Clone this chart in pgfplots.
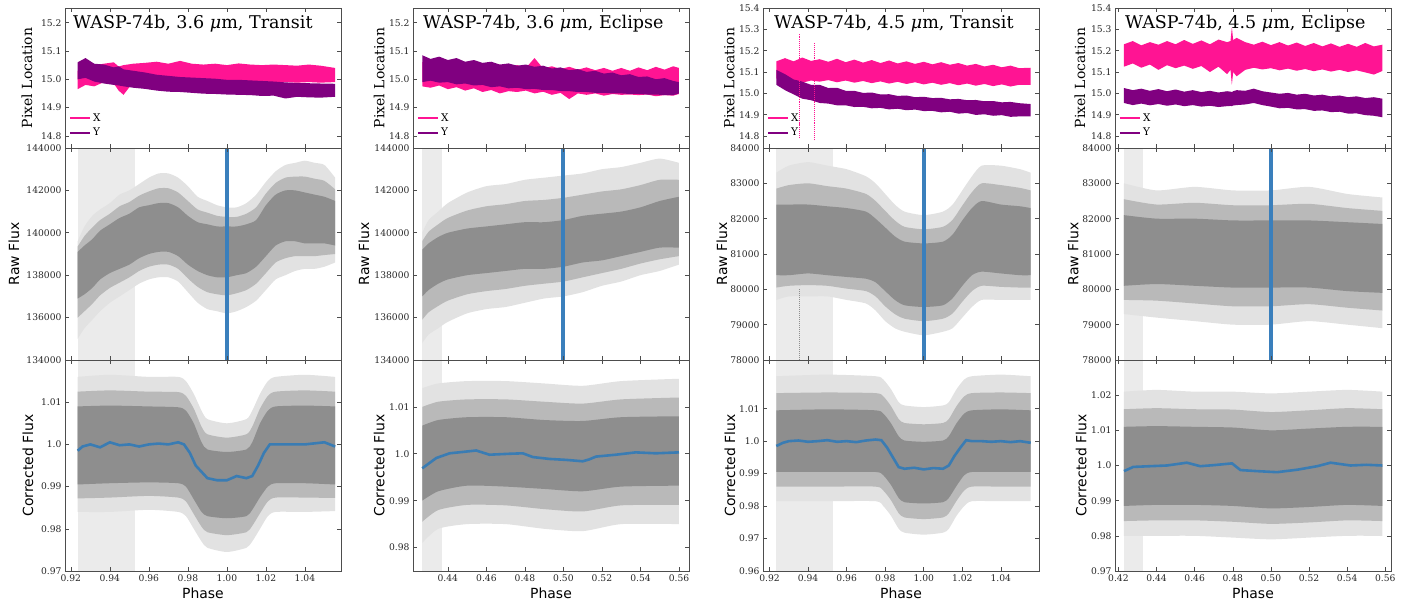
\documentclass[border=0pt]{standalone}
\usepackage{pgfplots}
\pgfplotsset{compat=1.18}
\usepackage{pgfplotstable}
\usepgfplotslibrary{fillbetween}
\usepackage{fontspec}
\setmainfont{DejaVu Serif}
\newfontfamily\sans{DejaVu Sans}
\definecolor{xpink}{HTML}{FF1493}
\definecolor{ypurple}{HTML}{800080}
\definecolor{mblue}{HTML}{3A7CB3}
\definecolor{vblue}{HTML}{3A7FBC}
\definecolor{axc}{HTML}{4D4D4D}
\definecolor{score}{HTML}{8E8E8E}
\definecolor{smid}{HTML}{B9B9B9}
\definecolor{sout}{HTML}{E2E2E2}
\definecolor{spanc}{HTML}{EBEBEB}

% ---------- Row 1: pixel location envelopes (x, X upper/lower, Y upper/lower)
\pgfplotstableread{
x xu xl yu yl
0.9235 15.030 14.965 15.060 15.000
0.9275 15.040 14.980 15.075 15.005
0.9320 15.050 14.975 15.055 14.992
0.9370 15.055 14.990 15.052 14.985
0.9420 15.060 14.985 15.042 14.980
0.9445 15.045 14.960 15.046 14.978
0.9470 15.050 14.945 15.035 14.975
0.9520 15.055 14.990 15.030 14.970
0.9580 15.058 14.990 15.024 14.966
0.9640 15.062 14.990 15.016 14.960
0.9700 15.055 14.988 15.012 14.956
0.9760 15.065 14.990 15.008 14.955
0.9820 15.055 14.990 15.006 14.952
0.9880 15.052 14.988 15.004 14.949
0.9940 15.055 14.990 15.002 14.948
1.0000 15.050 14.988 14.998 14.946
1.0060 15.056 14.990 14.998 14.945
1.0120 15.052 14.988 14.996 14.944
1.0180 15.050 14.990 14.994 14.941
1.0240 15.052 14.988 14.992 14.942
1.0300 15.050 14.990 14.989 14.932
1.0360 15.048 14.988 14.987 14.938
1.0420 15.052 14.990 14.986 14.936
1.0480 15.048 14.988 14.985 14.935
1.0555 15.040 14.990 14.984 14.938
}\pA
\pgfplotstableread{
x xu xl yu yl
0.4267 15.060 14.975 15.085 14.990
0.4310 15.068 14.970 15.072 14.995
0.4355 15.055 14.978 15.080 14.988
0.4400 15.062 14.965 15.068 14.990
0.4445 15.050 14.972 15.075 14.982
0.4490 15.058 14.960 15.062 14.985
0.4535 15.048 14.968 15.068 14.978
0.4580 15.055 14.955 15.058 14.980
0.4625 15.045 14.962 15.062 14.972
0.4670 15.052 14.950 15.052 14.975
0.4715 15.042 14.958 15.056 14.968
0.4760 15.050 14.955 15.048 14.970
0.4805 15.040 14.960 15.052 14.965
0.4850 15.075 14.950 15.044 14.966
0.4895 15.038 14.956 15.048 14.962
0.4940 15.046 14.945 15.038 14.962
0.4985 15.036 14.952 15.042 14.958
0.5030 15.044 14.930 15.032 14.958
0.5075 15.034 14.950 15.036 14.955
0.5120 15.042 14.945 15.026 14.955
0.5165 15.032 14.950 15.030 14.952
0.5210 15.040 14.942 15.020 14.952
0.5255 15.030 14.948 15.024 14.950
0.5300 15.040 14.945 15.014 14.950
0.5345 15.030 14.946 15.018 14.948
0.5390 15.042 14.944 15.008 14.948
0.5435 15.032 14.946 15.010 14.946
0.5480 15.044 14.940 15.000 14.946
0.5525 15.034 14.944 15.004 14.944
0.5570 15.046 14.942 14.994 14.944
0.5600 15.040 14.948 14.990 14.950
}\pB
\pgfplotstableread{
x xu xl yu yl
0.9235 15.150 15.070 15.110 15.040
0.9280 15.165 15.055 15.090 15.015
0.9325 15.150 15.062 15.065 14.995
0.9370 15.168 15.050 15.055 14.975
0.9415 15.152 15.060 15.040 14.968
0.9460 15.160 15.055 15.040 14.955
0.9505 15.148 15.062 15.025 14.952
0.9550 15.162 15.052 15.026 14.944
0.9595 15.146 15.060 15.012 14.944
0.9640 15.158 15.050 15.012 14.936
0.9685 15.144 15.058 15.002 14.937
0.9730 15.156 15.048 15.004 14.930
0.9775 15.142 15.056 14.995 14.932
0.9820 15.154 15.046 14.996 14.925
0.9865 15.140 15.054 14.988 14.928
0.9910 15.150 15.044 14.990 14.921
0.9955 15.138 15.052 14.982 14.924
1.0000 15.148 15.042 14.984 14.917
1.0045 15.136 15.050 14.978 14.918
1.0090 15.146 15.040 14.979 14.911
1.0135 15.134 15.048 14.972 14.914
1.0180 15.142 15.038 14.974 14.905
1.0225 15.130 15.046 14.968 14.908
1.0270 15.138 15.036 14.969 14.899
1.0315 15.126 15.044 14.963 14.902
1.0360 15.134 15.034 14.964 14.895
1.0405 15.122 15.042 14.958 14.898
1.0450 15.130 15.032 14.960 14.890
1.0495 15.118 15.040 14.954 14.892
1.0555 15.120 15.040 14.950 14.892
}\pC
\pgfplotstableread{
x xu xl yu yl
0.4229 15.230 15.125 15.025 14.955
0.4275 15.245 15.140 15.015 14.945
0.4320 15.225 15.120 15.022 14.952
0.4365 15.240 15.135 15.012 14.944
0.4410 15.228 15.110 15.020 14.950
0.4455 15.245 15.132 15.010 14.942
0.4500 15.230 15.118 15.018 14.948
0.4545 15.250 15.130 15.008 14.940
0.4590 15.232 15.115 15.015 14.945
0.4635 15.248 15.128 15.006 14.938
0.4680 15.230 15.100 15.012 14.942
0.4725 15.252 15.125 15.004 14.936
0.4770 15.240 15.090 15.010 14.940
0.4788 15.245 15.110 15.008 14.941
0.4795 15.310 15.040 15.006 14.940
0.4802 15.250 15.100 15.010 14.943
0.4820 15.260 15.080 15.015 14.945
0.4865 15.240 15.110 15.012 14.948
0.4910 15.228 15.120 15.022 14.955
0.4955 15.242 15.112 15.010 14.945
0.5000 15.226 15.118 15.004 14.938
0.5045 15.240 15.108 14.998 14.930
0.5090 15.224 15.116 15.002 14.932
0.5135 15.238 15.106 14.994 14.925
0.5180 15.222 15.114 14.998 14.926
0.5225 15.236 15.104 14.990 14.918
0.5270 15.220 15.112 14.994 14.920
0.5315 15.234 15.102 14.986 14.912
0.5360 15.218 15.110 14.990 14.914
0.5405 15.232 15.100 14.982 14.905
0.5450 15.218 15.108 14.986 14.906
0.5495 15.236 15.098 14.978 14.898
0.5540 15.220 15.088 14.982 14.895
0.5585 15.228 15.105 14.975 14.888
}\pD

% ---------- Row 2: raw flux envelopes (outer sparse, middle, dense core)
\pgfplotstableread{
x ou ol mu ml cu cl
0.9235 139600 135000 139350 136000 139100 136900
0.9270 140300 135500 139850 136300 139400 137100
0.9310 140800 135900 140250 136650 139700 137400
0.9350 141100 136300 140600 137050 140100 137800
0.9400 141400 136700 140900 137400 140400 138100
0.9450 141800 137000 141250 137650 140700 138300
0.9500 142000 137300 141450 137900 140900 138500
0.9550 142300 137600 141750 138200 141200 138800
0.9600 142600 137800 141950 138400 141300 139000
0.9650 142800 137900 142100 138500 141400 139100
0.9700 142800 137900 142100 138500 141400 139100
0.9750 142600 137700 141900 138300 141200 138900
0.9800 142200 137200 141500 137850 140800 138500
0.9850 141700 136700 141100 137450 140500 138200
0.9900 141500 136400 140950 137200 140400 138000
0.9950 141300 136300 140800 137100 140300 137900
1.0000 141200 136200 140750 137050 140300 137900
1.0050 141200 136300 140750 137150 140300 138000
1.0100 141400 136500 140900 137300 140400 138100
1.0150 141800 136800 141200 137600 140600 138400
1.0200 142400 137300 141850 138100 141300 138900
1.0250 142900 137800 142350 138600 141800 139400
1.0300 143200 138000 142600 138800 142000 139600
1.0350 143300 138200 142650 138900 142000 139600
1.0400 143400 138300 142650 138900 141900 139500
1.0450 143300 138300 142550 138900 141800 139500
1.0500 143200 138400 142450 138950 141700 139500
1.0555 142600 138600 142050 139000 141500 139400
}\rA
\pgfplotstableread{
x ou ol mu ml cu cl
0.4267 140000 134800 139600 135900 139200 137000
0.4300 140600 135200 140050 136250 139500 137300
0.4350 141000 135500 140400 136550 139800 137600
0.4400 141400 135800 140700 136800 140000 137800
0.4500 141900 136200 141050 137100 140200 138000
0.4600 142200 136400 141250 137250 140300 138100
0.4700 142300 136500 141350 137350 140400 138200
0.4800 142500 136700 141500 137500 140500 138300
0.4900 142600 136900 141550 137600 140500 138300
0.5000 142700 137000 141650 137700 140600 138400
0.5100 142800 137200 141800 137900 140800 138600
0.5200 143000 137500 141950 138100 140900 138700
0.5300 143100 137700 142050 138300 141000 138900
0.5400 143300 138000 142250 138550 141200 139100
0.5500 143500 138200 142500 138750 141500 139300
0.5600 143300 138500 142500 138900 141700 139300
}\rB
\pgfplotstableread{
x ou ol mu ml cu cl
0.9235 83300 79700 82850 80050 82400 80400
0.9300 83500 79800 82950 80100 82400 80400
0.9400 83600 79800 83000 80120 82400 80450
0.9500 83500 79800 82920 80100 82350 80400
0.9600 83400 79700 82850 80020 82300 80350
0.9700 83200 79600 82700 79950 82200 80300
0.9750 83000 79400 82500 79800 82000 80200
0.9800 82700 79100 82220 79520 81750 79950
0.9850 82400 78900 81950 79300 81500 79700
0.9900 82200 78800 81770 79170 81350 79550
1.0000 82100 78700 81700 79100 81300 79500
1.0100 82200 78800 81770 79170 81350 79550
1.0150 82400 78900 81970 79320 81550 79750
1.0200 82800 79200 82370 79650 81950 80100
1.0250 83200 79500 82750 79950 82300 80400
1.0300 83500 79700 83000 80100 82500 80500
1.0400 83500 79700 82950 80070 82400 80450
1.0500 83400 79700 82870 80050 82350 80400
1.0555 83300 79700 82800 80050 82300 80400
}\rC
\pgfplotstableread{
x ou ol mu ml cu cl
0.4229 83000 79300 82550 79700 82100 80100
0.4400 82800 79200 82400 79680 82000 80150
0.4600 82900 79100 82450 79600 82000 80100
0.4800 82800 79000 82380 79520 81950 80050
0.5000 82800 79000 82380 79520 81950 80050
0.5200 82900 79100 82420 79580 81950 80050
0.5400 82700 79000 82300 79480 81900 79950
0.5585 82600 78900 82220 79400 81850 79900
}\rD

% ---------- Row 3: corrected flux envelopes
\pgfplotstableread{
x ou ol mu ml cu cl
0.9235 1.0160 0.9840 1.0125 0.9872 1.0090 0.9905
0.9400 1.0165 0.9840 1.0128 0.9874 1.0092 0.9908
0.9600 1.0160 0.9845 1.0125 0.9878 1.0090 0.9910
0.9750 1.0160 0.9840 1.0124 0.9874 1.0088 0.9908
0.9790 1.0150 0.9830 1.0115 0.9865 1.0080 0.9900
0.9830 1.0120 0.9800 1.0085 0.9835 1.0050 0.9870
0.9870 1.0080 0.9770 1.0042 0.9805 1.0005 0.9840
0.9900 1.0060 0.9755 1.0024 0.9792 0.9988 0.9830
1.0000 1.0050 0.9745 1.0016 0.9785 0.9982 0.9825
1.0100 1.0060 0.9755 1.0024 0.9792 0.9988 0.9830
1.0130 1.0080 0.9770 1.0042 0.9807 1.0005 0.9845
1.0170 1.0120 0.9800 1.0085 0.9837 1.0050 0.9875
1.0210 1.0150 0.9830 1.0115 0.9865 1.0080 0.9900
1.0250 1.0160 0.9840 1.0125 0.9874 1.0090 0.9908
1.0400 1.0165 0.9840 1.0128 0.9874 1.0092 0.9908
1.0555 1.0160 0.9842 1.0125 0.9873 1.0090 0.9905
}\cA
\pgfplotstableread{
x ou ol mu ml cu cl
0.4267 1.0140 0.9810 1.0100 0.9855 1.0060 0.9900
0.4350 1.0150 0.9840 1.0111 0.9880 1.0072 0.9920
0.4500 1.0155 0.9850 1.0116 0.9891 1.0078 0.9932
0.4700 1.0155 0.9850 1.0116 0.9890 1.0078 0.9930
0.4900 1.0150 0.9840 1.0111 0.9882 1.0072 0.9925
0.5100 1.0145 0.9835 1.0107 0.9877 1.0070 0.9920
0.5300 1.0155 0.9850 1.0116 0.9890 1.0078 0.9930
0.5600 1.0160 0.9850 1.0120 0.9891 1.0080 0.9932
}\cB
\pgfplotstableread{
x ou ol mu ml cu cl
0.9235 1.0200 0.9815 1.0148 0.9860 1.0095 0.9905
0.9500 1.0205 0.9815 1.0150 0.9860 1.0098 0.9905
0.9750 1.0200 0.9815 1.0148 0.9860 1.0095 0.9905
0.9790 1.0190 0.9800 1.0138 0.9848 1.0085 0.9895
0.9830 1.0160 0.9770 1.0108 0.9818 1.0055 0.9865
0.9870 1.0120 0.9730 1.0068 0.9778 1.0015 0.9825
0.9900 1.0110 0.9718 1.0056 0.9765 1.0002 0.9812
1.0000 1.0105 0.9712 1.0052 0.9760 0.9998 0.9808
1.0100 1.0110 0.9718 1.0056 0.9765 1.0002 0.9812
1.0130 1.0120 0.9730 1.0068 0.9778 1.0015 0.9825
1.0170 1.0160 0.9770 1.0108 0.9816 1.0055 0.9862
1.0210 1.0190 0.9800 1.0138 0.9848 1.0085 0.9895
1.0250 1.0200 0.9815 1.0148 0.9860 1.0095 0.9905
1.0400 1.0205 0.9815 1.0150 0.9860 1.0098 0.9905
1.0555 1.0200 0.9815 1.0148 0.9860 1.0095 0.9905
}\cC
\pgfplotstableread{
x ou ol mu ml cu cl
0.4229 1.0210 0.9800 1.0160 0.9842 1.0110 0.9885
0.4400 1.0215 0.9800 1.0163 0.9844 1.0112 0.9888
0.4600 1.0210 0.9800 1.0160 0.9844 1.0110 0.9888
0.4800 1.0210 0.9795 1.0159 0.9840 1.0108 0.9885
0.5000 1.0205 0.9790 1.0152 0.9834 1.0100 0.9878
0.5200 1.0210 0.9795 1.0157 0.9838 1.0105 0.9882
0.5400 1.0215 0.9800 1.0163 0.9844 1.0110 0.9888
0.5585 1.0210 0.9800 1.0160 0.9842 1.0110 0.9885
}\cD

% ---------- Row 3: binned model (blue line)
\pgfplotstableread{
x y
0.9235 0.9985
0.9260 0.9995
0.9300 1.0000
0.9350 0.9993
0.9400 1.0005
0.9450 0.9998
0.9500 1.0000
0.9550 0.9995
0.9600 1.0000
0.9650 1.0002
0.9700 1.0000
0.9750 1.0005
0.9780 1.0000
0.9810 0.9980
0.9840 0.9950
0.9870 0.9935
0.9900 0.9920
0.9950 0.9915
1.0000 0.9915
1.0050 0.9925
1.0100 0.9920
1.0130 0.9925
1.0160 0.9950
1.0190 0.9980
1.0220 1.0000
1.0300 1.0000
1.0400 1.0000
1.0500 1.0005
1.0555 0.9995
}\mA
\pgfplotstableread{
x y
0.4267 0.9969
0.4340 0.9991
0.4409 1.0001
0.4480 1.0004
0.4547 1.0007
0.4616 0.9998
0.4720 1.0000
0.4789 1.0001
0.4841 0.9993
0.4927 0.9989
0.5013 0.9987
0.5100 0.9984
0.5134 0.9988
0.5169 0.9994
0.5272 0.9998
0.5376 1.0003
0.5479 1.0001
0.5600 1.0003
}\mB
\pgfplotstableread{
x y
0.9235 0.9985
0.9270 0.9995
0.9300 1.0000
0.9350 1.0002
0.9400 0.9998
0.9450 1.0000
0.9500 1.0003
0.9550 0.9998
0.9600 1.0000
0.9650 0.9997
0.9700 1.0002
0.9750 1.0005
0.9780 1.0003
0.9810 0.9980
0.9840 0.9950
0.9870 0.9920
0.9900 0.9915
0.9950 0.9918
1.0000 0.9913
1.0050 0.9917
1.0100 0.9915
1.0130 0.9925
1.0160 0.9955
1.0190 0.9980
1.0220 1.0003
1.0250 1.0000
1.0300 1.0000
1.0350 0.9998
1.0400 1.0000
1.0450 0.9997
1.0500 1.0000
1.0555 0.9995
}\mC
\pgfplotstableread{
x y
0.4229 0.9984
0.4278 0.9996
0.4366 0.9998
0.4454 1.0000
0.4559 1.0008
0.4629 0.9998
0.4700 1.0001
0.4796 1.0006
0.4840 0.9987
0.4927 0.9984
0.5032 0.9981
0.5138 0.9988
0.5243 0.9998
0.5313 1.0008
0.5418 1.0000
0.5500 1.0002
0.5585 1.0000
}\mD

\newcommand{\scat}[1]{%
 \addplot[draw=none, smooth, tension=0.4, name path=OU, forget plot] table[x=x,y=ou]{#1};
 \addplot[draw=none, smooth, tension=0.4, name path=OL, forget plot] table[x=x,y=ol]{#1};
 \addplot[fill=sout, forget plot] fill between[of=OU and OL];
 \addplot[draw=none, smooth, tension=0.4, name path=MU, forget plot] table[x=x,y=mu]{#1};
 \addplot[draw=none, smooth, tension=0.4, name path=ML, forget plot] table[x=x,y=ml]{#1};
 \addplot[fill=smid, forget plot] fill between[of=MU and ML];
 \addplot[draw=none, smooth, tension=0.4, name path=CU, forget plot] table[x=x,y=cu]{#1};
 \addplot[draw=none, smooth, tension=0.4, name path=CL, forget plot] table[x=x,y=cl]{#1};
 \addplot[fill=score, forget plot] fill between[of=CU and CL];
}
\newcommand{\pix}[1]{%
 \addplot[draw=none, name path=XU, forget plot] table[x=x,y=xu]{#1};
 \addplot[draw=none, name path=XL, forget plot] table[x=x,y=xl]{#1};
 \addplot[fill=xpink, forget plot] fill between[of=XU and XL];
 \addplot[draw=none, name path=YU, forget plot] table[x=x,y=yu]{#1};
 \addplot[draw=none, name path=YL, forget plot] table[x=x,y=yl]{#1};
 \addplot[fill=ypurple, forget plot] fill between[of=YU and YL];
 \addlegendimage{xpink, line width=1.6bp}\addlegendentry{X}
 \addlegendimage{ypurple, line width=1.6bp}\addlegendentry{Y}
}
\newcommand{\ttl}[2]{\node[anchor=base west, inner sep=0pt, font=\fontsize{17.6}{20}\selectfont] at (rel axis cs:#1,0.857) {#2};}
\newcommand{\spanp}[4]{\addplot[fill=spanc, draw=none, forget plot, on layer=axis background] coordinates {(#1,#3)(#1,#4)(#2,#4)(#2,#3)} -- cycle;}

\pgfplotsset{
 base/.style={scale only axis, width=276bp, anchor=south west, set layers, axis on top,
  scaled ticks=false,
  tick align=inside, major tick length=4bp,
  axis line style={draw=axc, line width=0.8bp},
  every tick/.style={draw=axc, line width=0.6bp},
  tick label style={font=\fontsize{9.2}{11}\selectfont, text=black!85},
  /pgf/number format/assume math mode=true,
  every axis y label/.style={rotate=90, anchor=center, font=\fontsize{14}{16}\selectfont},
  every axis x label/.style={at={(ticklabel cs:0.5)}, anchor=near ticklabel, font=\fontsize{14}{16}\selectfont\sans},
 },
 xA/.style={xmin=0.917, xmax=1.0585, xtick={0.92,0.94,0.96,0.98,1.00,1.02,1.04}},
 xB/.style={xmin=0.4219, xmax=0.5652, xtick={0.44,0.46,0.48,0.50,0.52,0.54,0.56}},
 xC/.style={xmin=0.9166, xmax=1.0598, xtick={0.92,0.94,0.96,0.98,1.00,1.02,1.04}},
 xD/.style={xmin=0.4182, xmax=0.563, xtick={0.42,0.44,0.46,0.48,0.50,0.52,0.54,0.56}},
 top/.style={height=140bp, xticklabels={},
  legend style={draw=none, fill=none, at={(0.005,0.275)}, anchor=north west,
   font=\fontsize{10.5}{12}\selectfont, row sep=1.5bp},
  legend cell align=left,
  legend image code/.code={\draw[##1] (0bp,0bp) -- (20bp,0bp);},
  ylabel={Pixel Location}},
 topA/.style={top, ymin=14.757, ymax=15.252, ytick={14.8,14.9,15.0,15.1,15.2}, yticklabels={14.8,14.9,15.0,15.1,15.2}},
 topB/.style={top, ymin=14.744, ymax=15.4, ytick={14.8,14.9,15.0,15.1,15.2,15.3,15.4}, yticklabels={14.8,14.9,15.0,15.1,15.2,15.3,15.4}},
 mid/.style={height=212bp, xticklabels={}, ylabel={\sans Raw Flux}},
 midA/.style={mid, ymin=134000, ymax=144000, ytick={134000,136000,138000,140000,142000,144000}, yticklabels={134000,136000,138000,140000,142000,144000}},
 midB/.style={mid, ymin=78000, ymax=84000, ytick={78000,79000,80000,81000,82000,83000,84000}, yticklabels={78000,79000,80000,81000,82000,83000,84000}},
 bot/.style={height=211bp, ylabel={\sans Corrected Flux}, xlabel={Phase}},
}

\begin{document}
\begin{tikzpicture}

% ================= Column 1: 3.6 um Transit
\begin{axis}[base, xA, topA, at={(65bp,454bp)}, ylabel style={at={(axis description cs:-0.138,0.5)}}]
\pix{\pA}
\ttl{0.029}{WASP-74b, 3.6 {\itshape μ}m, Transit}
\end{axis}
\begin{axis}[base, xA, midA, at={(65bp,242bp)}, ylabel style={at={(axis description cs:-0.185,0.5)}}]
\spanp{0.9235}{0.953}{134000}{144000}
\scat{\rA}
\addplot[vblue, line width=4bp, forget plot] coordinates {(1.0,134000)(1.0,144000)};
\end{axis}
\begin{axis}[base, xA, bot, at={(65bp,31bp)}, ymin=0.97, ymax=1.02, ytick={0.97,0.98,0.99,1.0,1.01}, yticklabels={0.97,0.98,0.99,1.0,1.01},
 xticklabels={0.92,0.94,0.96,0.98,1.00,1.02,1.04}, ylabel style={at={(axis description cs:-0.134,0.5)}}]
\spanp{0.9235}{0.953}{0.97}{1.02}
\scat{\cA}
\addplot[mblue, line width=2.6bp, forget plot] table[x=x,y=y]{\mA};
\end{axis}

% ================= Column 2: 3.6 um Eclipse
\begin{axis}[base, xB, topA, at={(413bp,454bp)}, ylabel style={at={(axis description cs:-0.123,0.5)}}]
\pix{\pB}
\ttl{0.036}{WASP-74b, 3.6 {\itshape μ}m, Eclipse}
\end{axis}
\begin{axis}[base, xB, midA, at={(413bp,242bp)}, ylabel style={at={(axis description cs:-0.178,0.5)}}]
\spanp{0.4267}{0.437}{134000}{144000}
\scat{\rB}
\addplot[vblue, line width=4bp, forget plot] coordinates {(0.5,134000)(0.5,144000)};
\end{axis}
\begin{axis}[base, xB, bot, at={(413bp,31bp)}, ymin=0.975, ymax=1.02, ytick={0.98,0.99,1.0,1.01}, yticklabels={0.98,0.99,1.0,1.01},
 xticklabels={0.44,0.46,0.48,0.50,0.52,0.54,0.56}, ylabel style={at={(axis description cs:-0.123,0.5)}}]
\spanp{0.4267}{0.437}{0.975}{1.02}
\scat{\cB}
\addplot[mblue, line width=2.6bp, forget plot] table[x=x,y=y]{\mB};
\end{axis}

% ================= Column 3: 4.5 um Transit
\begin{axis}[base, xC, topB, at={(763bp,454bp)}, ylabel style={at={(axis description cs:-0.123,0.5)}}]
\pix{\pC}
\addplot[xpink, densely dotted, line width=1.1bp, forget plot] coordinates {(0.9355,14.79)(0.9355,15.28)};
\addplot[xpink, densely dotted, line width=1.1bp, forget plot] coordinates {(0.9433,14.78)(0.9433,15.24)};
\ttl{0.04}{WASP-74b, 4.5 {\itshape μ}m, Transit}
\end{axis}
\begin{axis}[base, xC, midB, at={(763bp,242bp)}, ylabel style={at={(axis description cs:-0.149,0.5)}}]
\spanp{0.9235}{0.953}{78000}{84000}
\scat{\rC}
\addplot[score, densely dotted, line width=1bp, forget plot] coordinates {(0.9355,78000)(0.9355,80000)};
\addplot[vblue, line width=4bp, forget plot] coordinates {(1.0,78000)(1.0,84000)};
\end{axis}
\begin{axis}[base, xC, bot, at={(763bp,31bp)}, ymin=0.96, ymax=1.025, ytick={0.96,0.97,0.98,0.99,1.0,1.01}, yticklabels={0.96,0.97,0.98,0.99,1.0,1.01},
 xticklabels={0.92,0.94,0.96,0.98,1.00,1.02,1.04}, ylabel style={at={(axis description cs:-0.12,0.5)}}]
\spanp{0.9235}{0.953}{0.96}{1.025}
\scat{\cC}
\addplot[mblue, line width=2.6bp, forget plot] table[x=x,y=y]{\mC};
\end{axis}

% ================= Column 4: 4.5 um Eclipse
\begin{axis}[base, xD, topB, at={(1115bp,454bp)}, ylabel style={at={(axis description cs:-0.127,0.5)}}]
\pix{\pD}
\ttl{0.036}{WASP-74b, 4.5 {\itshape μ}m, Eclipse}
\end{axis}
\begin{axis}[base, xD, midB, at={(1115bp,242bp)}, ylabel style={at={(axis description cs:-0.152,0.5)}}]
\spanp{0.4229}{0.4331}{78000}{84000}
\scat{\rD}
\addplot[vblue, line width=4bp, forget plot] coordinates {(0.5,78000)(0.5,84000)};
\end{axis}
\begin{axis}[base, xD, bot, at={(1115bp,31bp)}, ymin=0.97, ymax=1.03, ytick={0.97,0.98,0.99,1.0,1.01,1.02}, yticklabels={0.97,0.98,0.99,1.0,1.01,1.02},
 xticklabels={0.42,0.44,0.46,0.48,0.50,0.52,0.54,0.56}, ylabel style={at={(axis description cs:-0.123,0.5)}}]
\spanp{0.4229}{0.4331}{0.97}{1.03}
\scat{\cD}
\addplot[mblue, line width=2.6bp, forget plot] table[x=x,y=y]{\mD};
\end{axis}

\fill[white] (1392bp,0bp) rectangle (1406bp,29bp);
\pgfresetboundingbox
\path[use as bounding box] (0bp,0bp) rectangle (1406bp,602bp);
\end{tikzpicture}
\end{document}
